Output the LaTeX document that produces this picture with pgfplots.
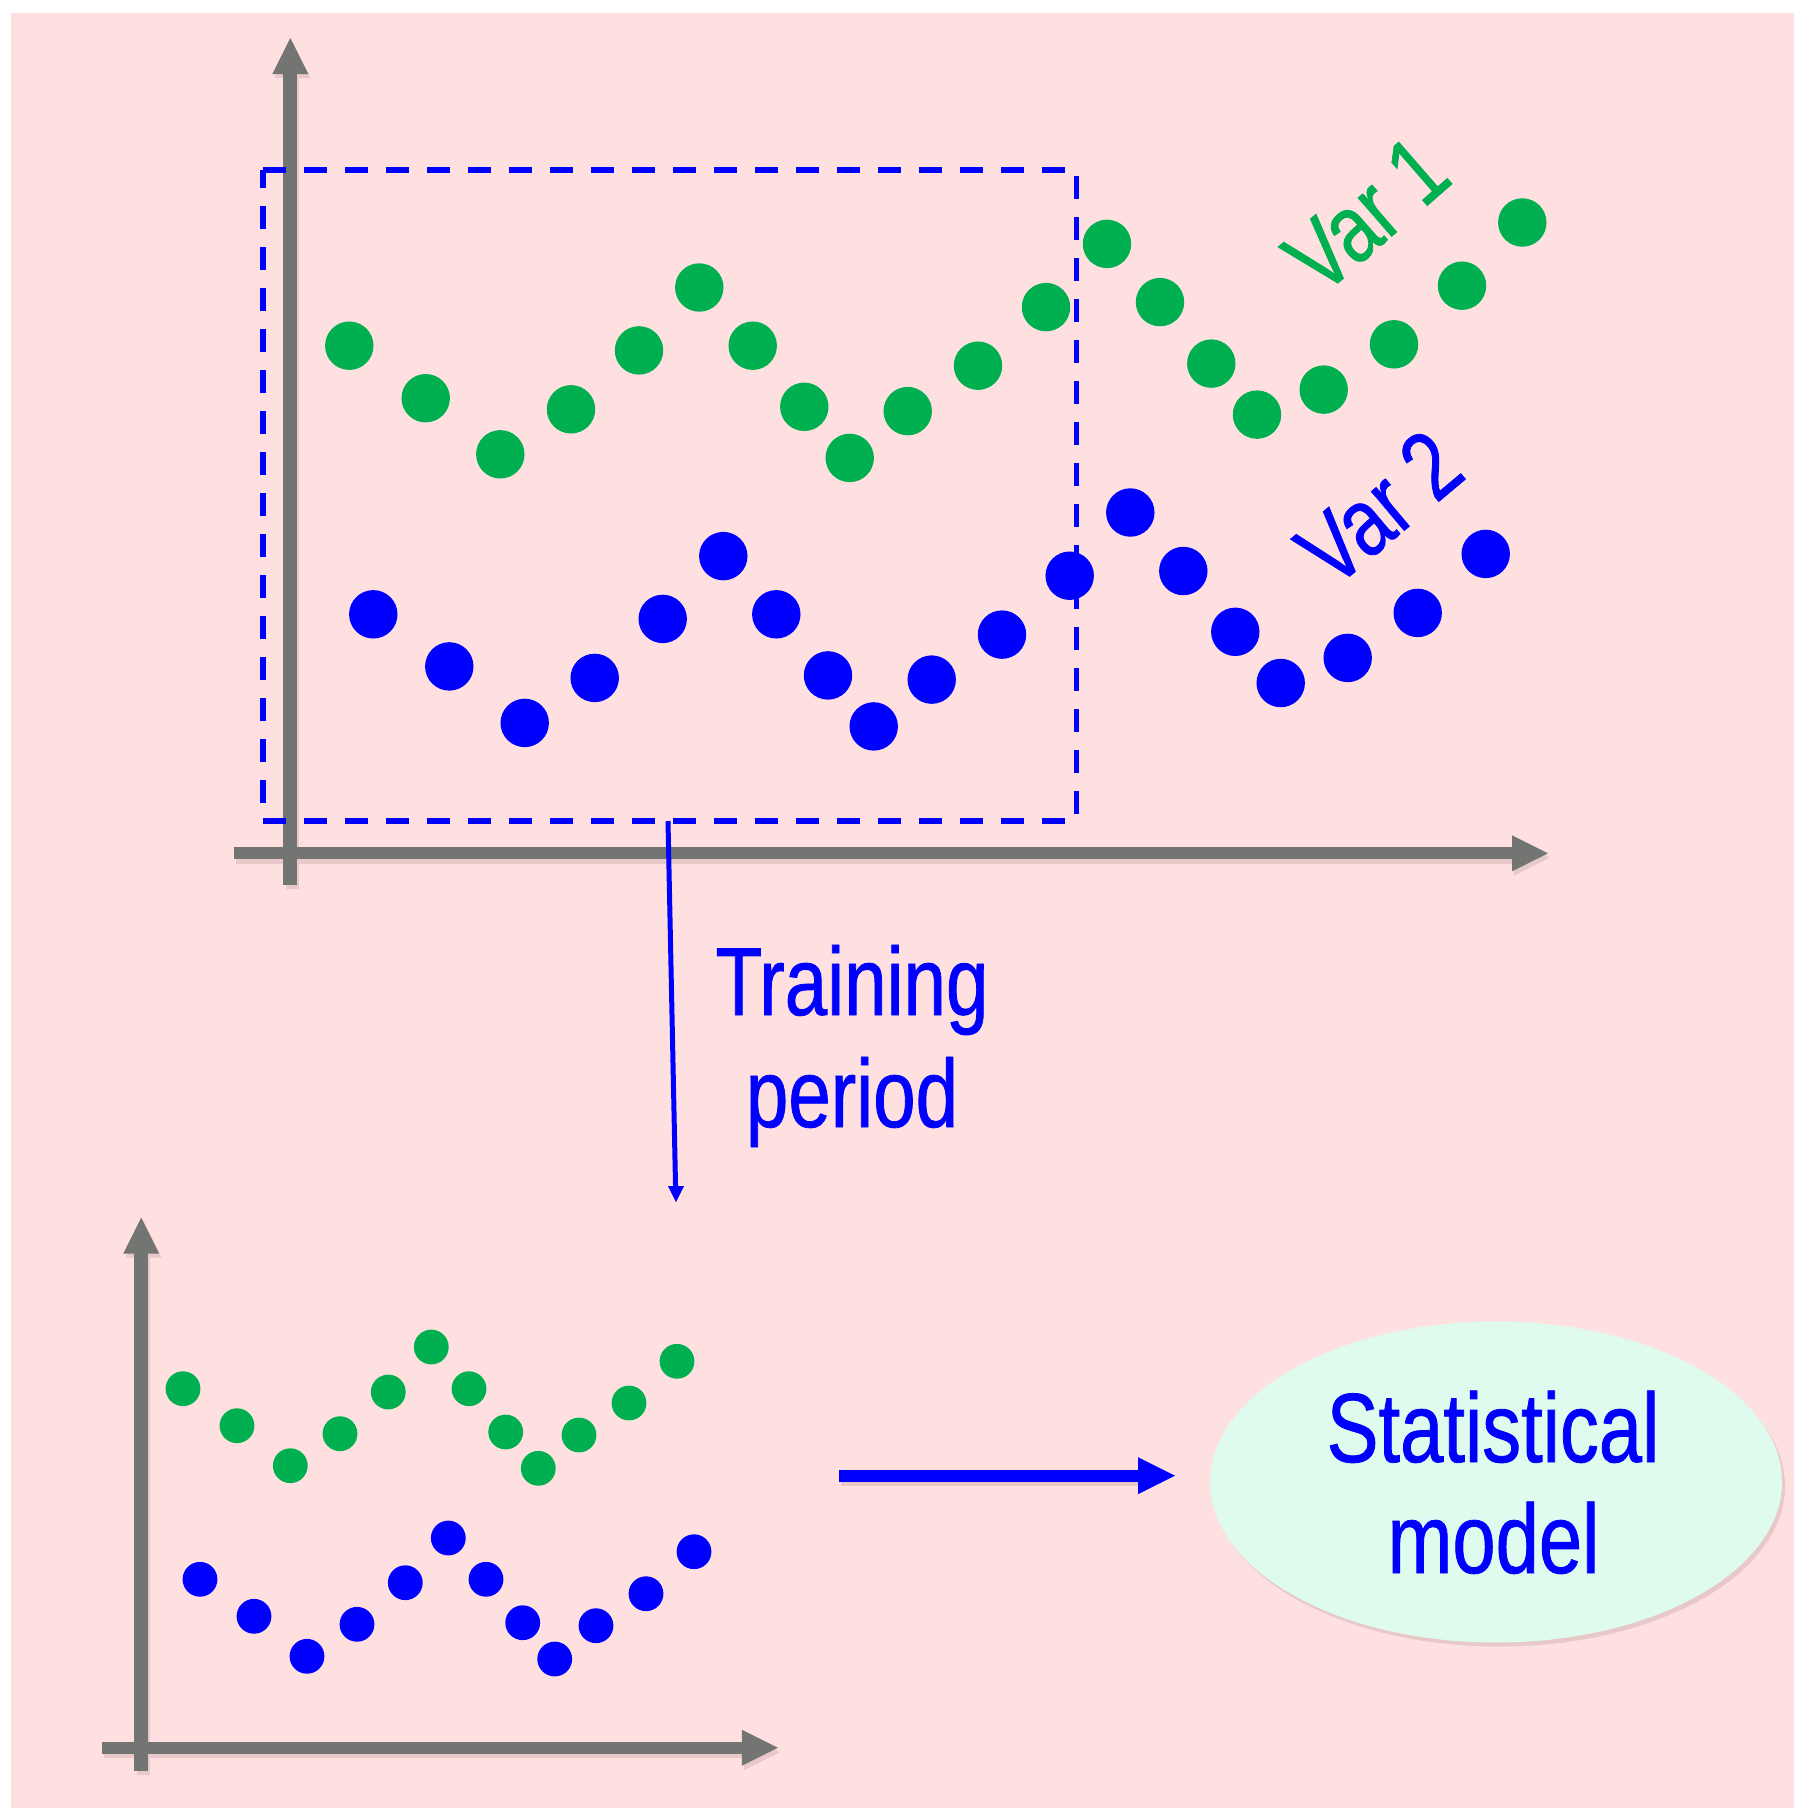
\documentclass[border=0pt]{standalone}
\usepackage{pgfplots}
\pgfplotsset{compat=1.18}
\usepackage{fontspec}
\newfontfamily\lsans[FakeStretch=0.79, FakeBold=0.8]{Liberation Sans}
\definecolor{bgpink}{RGB}{254,224,225}
\definecolor{vgreen}{RGB}{0,175,80}
\definecolor{vblue}{RGB}{0,0,255}
\definecolor{axgray}{RGB}{115,117,114}
\definecolor{mint}{RGB}{223,251,237}
\definecolor{shadowcol}{RGB}{232,200,201}
\begin{document}
\begin{tikzpicture}
\begin{axis}[
  width=17.94cm, height=18.15cm, scale only axis,
  xmin=0, xmax=1794, ymin=0, ymax=1815, y dir=reverse,
  hide axis, clip=false]
% background
\fill[white] (0,0) rectangle (1794,1815);
\fill[bgpink] (11,13) rectangle (1794,1808);

% ---- top panel axes (with soft shadow) ----
\draw[shadowcol, line width=3.98pt] (292.5,889) -- (292.5,74);
\draw[shadowcol, line width=3.41pt] (236,857.5) -- (1512,857.5);
\fill[shadowcol] (292.5,42) -- (274.5,78) -- (310.5,78) -- cycle;
\fill[shadowcol] (1550,857.5) -- (1514,839.5) -- (1514,875.5) -- cycle;
\draw[axgray, line width=3.98pt] (290.3,885) -- (290.3,72);
\draw[axgray, line width=3.41pt] (234,853.3) -- (1514,853.3);
\fill[axgray] (290.3,38) -- (272.3,74) -- (308.3,74) -- cycle;
\fill[axgray] (1548,853.3) -- (1512,835.3) -- (1512,871.3) -- cycle;

% dashed training window
\draw[vblue, line width=1.5pt, dash pattern=on 0.23cm off 0.18cm]
  (263,170) -- (1076.7,170) -- (1076.7,821) -- (263,821) -- cycle;

% ---- Var 1 (green) ----
\addplot[only marks, mark=*, mark size=6.69pt, color=vgreen, mark options={draw=none, fill=vgreen}]
coordinates {(349.3,345.7) (425.7,398.2) (500.3,454.3) (571,409.3) (639,350.4) (699.3,287.5) (752.7,345.7) (804.3,406.8) (849.7,457.9) (907.7,411.1) (978,365.7) (1046,307.1) (1107,243.9) (1160,302.1) (1211.3,363.6) (1257,414.6) (1323.7,389.6) (1394,344.3) (1462,285.7) (1522.3,222.5)};
% ---- Var 2 (blue) ----
\addplot[only marks, mark=*, mark size=6.69pt, color=vblue, mark options={draw=none, fill=vblue}]
coordinates {(373.3,614.3) (449.3,666.4) (524.7,722.9) (594.7,677.9) (662.7,618.9) (723.3,556.1) (776.3,614.3) (828,675.4) (873.7,726.4) (931.7,679.6) (1002,634.6) (1069.7,575.7) (1130.3,512.5) (1183.3,571) (1235.3,631.8) (1280.7,683) (1347.7,657.9) (1417.7,612.9) (1485.7,553.9)};

% labels
\node[vgreen, rotate=41, inner sep=0pt, anchor=center, font=\lsans\fontsize{27.5}{32}\selectfont] at (1366.7,214.7) {Var 1};
\node[vblue, rotate=40, inner sep=0pt, anchor=center, font=\lsans\fontsize{27.5}{32}\selectfont] at (1379.3,508) {Var 2};

% thin arrow down
\draw[vblue, line width=1.42pt] (668,821) -- (675.6,1189);
\fill[vblue] (676,1202) -- (668,1186) -- (684,1186) -- cycle;

\node[vblue, inner sep=0pt, anchor=base, font=\lsans\fontsize{27.5}{32}\selectfont] at (852,1015) {Training};
\node[vblue, inner sep=0pt, anchor=base, font=\lsans\fontsize{27.5}{32}\selectfont] at (852,1127) {period};

% ---- bottom panel axes ----
\draw[shadowcol, line width=3.98pt] (143.5,1775) -- (143.5,1254);
\draw[shadowcol, line width=3.41pt] (104,1752) -- (744,1752);
\fill[shadowcol] (143.5,1221.6) -- (125.5,1257.6) -- (161.5,1257.6) -- cycle;
\fill[shadowcol] (780,1752) -- (744,1734) -- (744,1770) -- cycle;
\draw[axgray, line width=3.98pt] (141.2,1771) -- (141.2,1252);
\draw[axgray, line width=3.41pt] (101.9,1747.7) -- (743,1747.7);
\fill[axgray] (141.2,1217.6) -- (123.2,1253.6) -- (159.2,1253.6) -- cycle;
\fill[axgray] (777.8,1747.7) -- (741.8,1729.7) -- (741.8,1765.7) -- cycle;

\addplot[only marks, mark=*, mark size=4.75pt, color=vgreen, mark options={draw=none, fill=vgreen}]
coordinates {(183,1388.7) (237,1425.7) (290.3,1465.7) (340,1433.7) (388.3,1392) (431.3,1347) (469,1388.7) (505.7,1432) (538.3,1468.3) (579,1435) (629,1403) (677,1361.3)};
\addplot[only marks, mark=*, mark size=4.75pt, color=vblue, mark options={draw=none, fill=vblue}]
coordinates {(200,1579.3) (254,1616.3) (307,1656.3) (357,1624.3) (405.3,1582.7) (448.3,1538) (486,1579.3) (522.7,1622.7) (554.7,1659) (596,1625.7) (646,1593.7) (694,1551.7)};

% big arrow to model
\draw[shadowcol, line width=3.5pt] (841,1479.5) -- (1140,1479.5);
\draw[vblue, line width=3.5pt] (839,1475.7) -- (1140,1475.7);
\fill[vblue] (1175,1475.7) -- (1138,1457.2) -- (1138,1494.2) -- cycle;

% ellipse
\fill[shadowcol] (1499,1486) ellipse [x radius=2.86cm, y radius=1.605cm];
\fill[mint] (1496,1482) ellipse [x radius=2.86cm, y radius=1.605cm];
\node[vblue, inner sep=0pt, anchor=base, font=\lsans\fontsize{28}{32}\selectfont] at (1493,1462) {Statistical};
\node[vblue, inner sep=0pt, anchor=base, font=\lsans\fontsize{28}{32}\selectfont] at (1493.5,1573) {model};
\end{axis}
\end{tikzpicture}
\end{document}
